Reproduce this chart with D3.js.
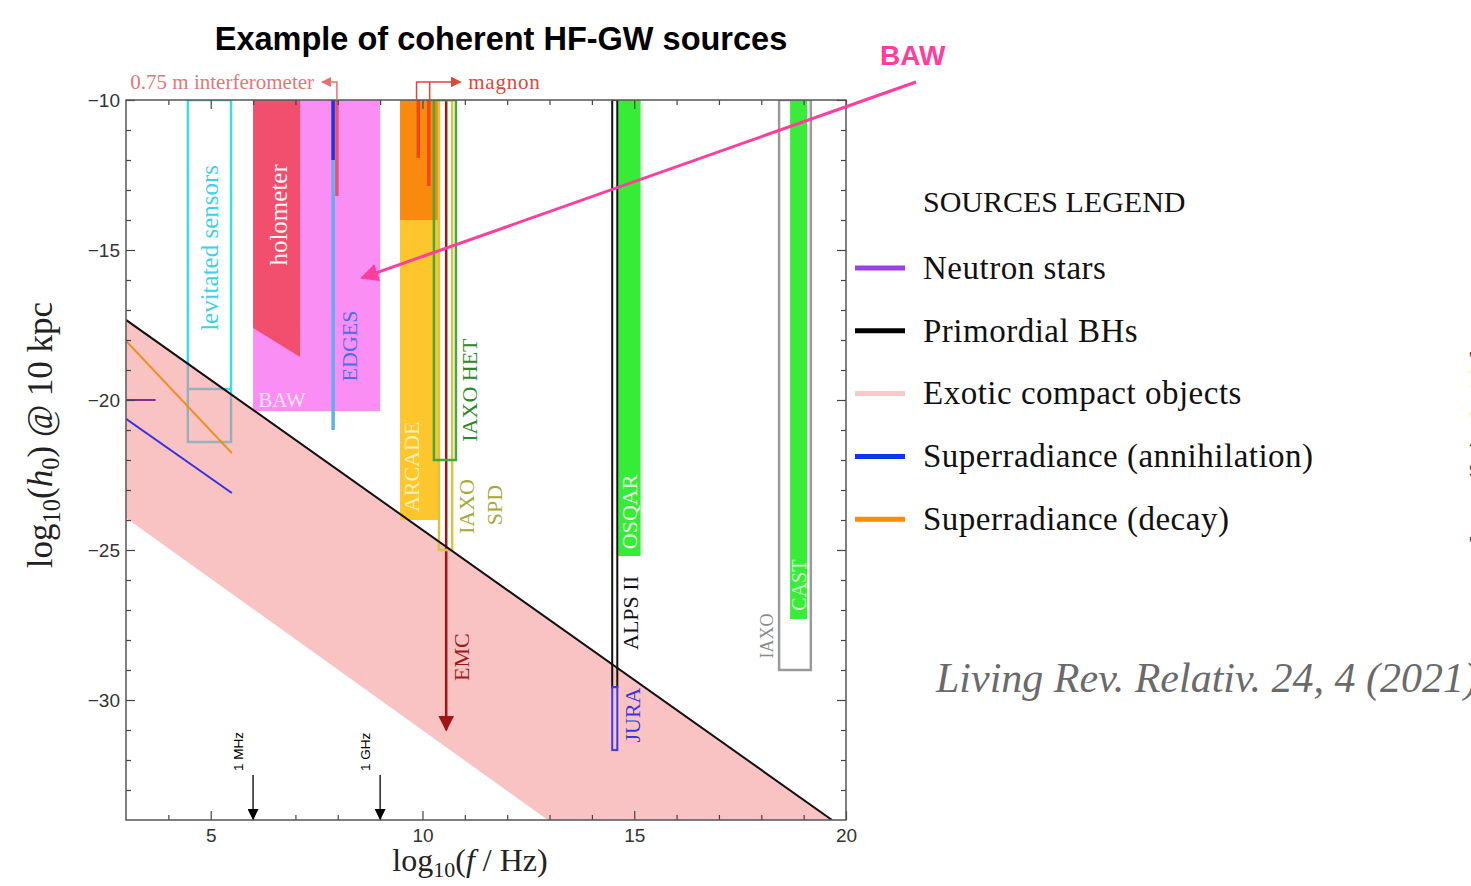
<!DOCTYPE html>
<html>
<head>
<meta charset="utf-8">
<script src="https://cdn.jsdelivr.net/npm/d3@7"></script>
<style>
  body { margin: 0; background: #fff; }
  svg { display: block; }
  .serif { font-family: "Liberation Serif", "DejaVu Serif", serif; }
  .sans { font-family: "Liberation Sans", Arial, sans-serif; }
</style>
</head>
<body>
<svg id="chart" width="1471" height="886"></svg>
<script>
// ---- data (log10 f [Hz], log10 h0) ----
const xDomain = [3, 20];
const yDomain = [-34, -10];
const xTicks = [5, 10, 15, 20];
const yTicks = [-10, -15, -20, -25, -30];

// sources
const ecoUpper = [[3, -17.33], [19.67, -34]];   // primordial BH line / top of ECO band
const ecoLower = [[3, -23.93], [12.96, -34]];
const neutronStars = [[3, -20], [3.7, -20]];
const srDecay = [[3, -18.03], [5.5, -21.77]];
const srAnnihilation = [[3, -20.63], [5.5, -23.1]];

// detectors: [name, fmin, fmax, htop, hbottom]
const filledBoxes = [
  ["BAW", 6.0, 9.0, -10, -20.37],
  ["ARCADE", 9.47, 10.41, -14, -24],
  ["ARCADE_top", 9.47, 10.41, -10, -14],
  ["OSQAR", 14.62, 15.15, -10, -25.2],
  ["CAST", 18.68, 19.08, -10, -27.3]
];
const holometer = [[6.0, -10], [7.11, -10], [7.11, -18.57], [6.0, -17.6]];
const outlineBoxes = [
  ["levitated", 4.46, 5.48, -10, -21.4],
  ["IAXO SPD", 10.39, 10.7, -10, -25],
  ["IAXO HET", 10.27, 10.79, -10, -22],
  ["ALPS II", 14.48, 14.6, -10, -29.57],
  ["JURA", 14.48, 14.6, -29.57, -31.67],
  ["IAXO", 18.42, 19.17, -10, -29]
];
const levitatedSplit = -19.63;
// vertical lines: [name, f, htop, hbottom]
const vLines = [
  ["EDGES", 7.89, -10, -21],
  ["EDGES_top", 7.89, -10, -12],
  ["interferometer", 7.98, -10, -13.2],
  ["magnon1", 9.9, -10, -11.93],
  ["magnon2", 10.15, -10, -12.87],
  ["EMC", 10.56, -10, -31]
];
const freqMarks = [6, 9];
const freqNames = ["1 MHz", "1 GHz"];

const legendNames = ["Neutron stars", "Primordial BHs", "Exotic compact objects",
  "Superradiance (annihilation)", "Superradiance (decay)"];

// ---- styles ----
const fillCol = {
  "BAW": "#fb8ef5", "ARCADE": "#fcc62c", "ARCADE_top": "#f98a0e",
  "OSQAR": "#36ec36", "CAST": "#3aec3a"
};
const strokeCol = {
  "levitated": "#3fd9e8", "IAXO SPD": "#d6c444", "IAXO HET": "#46a83a",
  "ALPS II": "#111", "JURA": "#3c3ce6", "IAXO": "#9a9a9a",
  "EDGES": "#5fb0f2", "EDGES_top": "#2233d6", "interferometer": "#e8506e",
  "magnon1": "#f04812", "magnon2": "#f04812", "EMC": "#a01414"
};
const legendCol = ["#9a40e8", "#000", "#f9c8c8", "#0a38e8", "#ff8c00"];

const svg = d3.select("#chart");
const width = 1471, height = 886;

const x = d3.scaleLinear().domain(xDomain).range([126, 846]);
const y = d3.scaleLinear().domain(yDomain).range([820, 100]);

const defs = svg.append("defs");
defs.append("clipPath").attr("id", "plotclip")
  .append("rect")
  .attr("x", x(xDomain[0])).attr("y", y(yDomain[1]))
  .attr("width", x(xDomain[1]) - x(xDomain[0]))
  .attr("height", y(yDomain[0]) - y(yDomain[1]));

// arrow heads
[["arrEMC", "#a01414", 16], ["arrBAW", "#ff3d9c", 18], ["arrBlk", "#000", 11],
 ["arrInt", "#e87070", 10], ["arrMag", "#d84a3a", 11]].forEach(([id, c, s]) => {
  defs.append("marker")
    .attr("id", id)
    .attr("viewBox", "0 0 10 10")
    .attr("refX", 9).attr("refY", 5)
    .attr("markerWidth", s).attr("markerHeight", s)
    .attr("markerUnits", "userSpaceOnUse")
    .attr("orient", "auto")
    .append("path").attr("d", "M0,0L10,5L0,10z").attr("fill", c);
});

const plot = svg.append("g").attr("clip-path", "url(#plotclip)");
const line = d3.line().x(d => x(d[0])).y(d => y(d[1]));

function box(sel, b) {
  return sel.append("rect")
    .attr("x", x(b[1])).attr("width", x(b[2]) - x(b[1]))
    .attr("y", y(b[3])).attr("height", y(b[4]) - y(b[3]));
}

// levitated sensors box (under the ECO band)
const lev = outlineBoxes[0];
box(plot, lev).attr("fill", "none").attr("stroke", strokeCol.levitated).attr("stroke-width", 2.5);
plot.append("line")
  .attr("x1", x(lev[1])).attr("x2", x(lev[2]))
  .attr("y1", y(levitatedSplit)).attr("y2", y(levitatedSplit))
  .attr("stroke", strokeCol.levitated).attr("stroke-width", 2.5);

// exotic compact objects band
plot.append("path")
  .attr("d", line(ecoUpper.concat(ecoLower.slice().reverse())) + "Z")
  .attr("fill", "#f48888").attr("fill-opacity", 0.5);

// filled detectors
filledBoxes.forEach(b => {
  box(plot, b).attr("fill", fillCol[b[0]]);
});
plot.append("path")
  .attr("d", line(holometer) + "Z")
  .attr("fill", "#f24e6e");

// vertical detector lines
vLines.forEach(v => {
  const l = plot.append("line")
    .attr("x1", x(v[1])).attr("x2", x(v[1]))
    .attr("y1", y(v[2])).attr("y2", y(v[3]))
    .attr("stroke", strokeCol[v[0]])
    .attr("stroke-width", v[0] == "EMC" ? 2.5 : 3.5);
  if (v[0] == "EMC") l.attr("marker-end", "url(#arrEMC)");
});

// outline detectors
outlineBoxes.slice(1).forEach(b => {
  box(plot, b).attr("fill", "none").attr("stroke", strokeCol[b[0]])
    .attr("stroke-width", b[0] == "ALPS II" || b[0] == "JURA" ? 2 : 2.5);
});

// source lines
plot.append("path").attr("d", line(srDecay)).attr("stroke", "#f08c1a").attr("stroke-width", 2).attr("fill", "none");
plot.append("path").attr("d", line(srAnnihilation)).attr("stroke", "#3a2ee0").attr("stroke-width", 2).attr("fill", "none");
plot.append("path").attr("d", line(neutronStars)).attr("stroke", "#8a2a8a").attr("stroke-width", 2).attr("fill", "none");
plot.append("path").attr("d", line(ecoUpper)).attr("stroke", "#111").attr("stroke-width", 2).attr("fill", "none");

// labels inside plot: [text, f, h, colour, size]
const vLabels = [
  ["levitated sensors", 4.98, -14.93, "#3fd0e6", 25],
  ["holometer", 6.61, -13.83, "#fff4f4", 25],
  ["EDGES", 8.27, -18.2, "#4a6ee8", 22],
  ["ARCADE", 9.75, -22.23, "#fff1b8", 22],
  ["IAXO HET", 11.12, -19.67, "#2a8a2a", 22],
  ["IAXO", 11.05, -23.55, "#a8a838", 22],
  ["SPD", 11.71, -23.5, "#a8a838", 22],
  ["EMC", 10.91, -28.57, "#a01818", 22],
  ["OSQAR", 14.88, -23.73, "#eaffea", 22],
  ["ALPS II", 14.92, -27.1, "#111", 22],
  ["JURA", 14.95, -30.5, "#3838e0", 22],
  ["CAST", 18.89, -26.17, "#c8ffc8", 20],
  ["IAXO", 18.14, -27.87, "#8a8a8a", 18]
];
plot.selectAll(".vlabel")
  .data(vLabels)
  .join("text")
  .attr("class", "vlabel serif")
  .attr("transform", d => `translate(${x(d[1])},${y(d[2])}) rotate(-90)`)
  .attr("text-anchor", "middle")
  .attr("dominant-baseline", "central")
  .attr("font-size", d => d[4])
  .attr("fill", d => d[3])
  .text(d => d[0]);
plot.append("text")
  .attr("class", "serif")
  .attr("x", x(6.12)).attr("y", y(-20))
  .attr("dominant-baseline", "central")
  .attr("font-size", 21).attr("fill", "#fde4fb")
  .text("BAW");

// ---- axes ----
function noDomain(g) { g.select(".domain").remove(); }
const minorX = d3.range(4, 20), minorY = d3.range(-33, -10);

svg.append("g").attr("transform", `translate(0,${y(yDomain[0])})`)
  .call(d3.axisBottom(x).tickValues(xTicks).tickSize(-9).tickPadding(9).tickFormat(d3.format("d")))
  .call(noDomain);
svg.append("g").attr("transform", `translate(0,${y(yDomain[0])})`)
  .call(d3.axisBottom(x).tickValues(minorX.filter(d => d % 5)).tickSize(-5).tickFormat(""))
  .call(noDomain);
svg.append("g").attr("transform", `translate(0,${y(yDomain[1])})`)
  .call(d3.axisTop(x).tickValues(xTicks).tickSize(-9).tickFormat(""))
  .call(noDomain);
svg.append("g").attr("transform", `translate(0,${y(yDomain[1])})`)
  .call(d3.axisTop(x).tickValues(minorX.filter(d => d % 5)).tickSize(-5).tickFormat(""))
  .call(noDomain);
svg.append("g").attr("transform", `translate(${x(xDomain[0])},0)`)
  .call(d3.axisLeft(y).tickValues(yTicks).tickSize(-9).tickPadding(6).tickFormat(d3.format("d")))
  .call(noDomain);
svg.append("g").attr("transform", `translate(${x(xDomain[0])},0)`)
  .call(d3.axisLeft(y).tickValues(minorY.filter(d => d % 5)).tickSize(-5).tickFormat(""))
  .call(noDomain);
svg.append("g").attr("transform", `translate(${x(xDomain[1])},0)`)
  .call(d3.axisRight(y).tickValues(yTicks).tickSize(-9).tickFormat(""))
  .call(noDomain);
svg.append("g").attr("transform", `translate(${x(xDomain[1])},0)`)
  .call(d3.axisRight(y).tickValues(minorY.filter(d => d % 5)).tickSize(-5).tickFormat(""))
  .call(noDomain);
svg.selectAll(".tick line").attr("stroke", "#444").attr("stroke-width", 1.2);
svg.selectAll(".tick text")
  .attr("font-family", "Liberation Sans, Arial, sans-serif")
  .attr("font-size", 19).attr("fill", "#333");

// frame
svg.append("rect")
  .attr("x", x(xDomain[0])).attr("y", y(yDomain[1]))
  .attr("width", x(xDomain[1]) - x(xDomain[0]))
  .attr("height", y(yDomain[0]) - y(yDomain[1]))
  .attr("fill", "none").attr("stroke", "#555").attr("stroke-width", 1.5);

// frequency markers
freqMarks.forEach((f, i) => {
  svg.append("line")
    .attr("x1", x(f)).attr("x2", x(f))
    .attr("y1", y(-32.5)).attr("y2", y(yDomain[0]) - 1)
    .attr("stroke", "#000").attr("stroke-width", 1.3)
    .attr("marker-end", "url(#arrBlk)");
  svg.append("text")
    .attr("class", "sans")
    .attr("transform", `translate(${x(f) - 10},${y(-32.5) - 4}) rotate(-90)`)
    .attr("font-size", 13.5).attr("fill", "#000")
    .text(freqNames[i]);
});

// axis titles
const xl = svg.append("text").attr("class", "serif")
  .attr("x", 470).attr("y", 871).attr("text-anchor", "middle")
  .attr("font-size", 32).attr("fill", "#222");
xl.append("tspan").text("log");
xl.append("tspan").attr("dy", 6).attr("font-size", 22).text("10");
xl.append("tspan").attr("dy", -6).text("(");
xl.append("tspan").attr("font-style", "italic").text("f");
xl.append("tspan").text(" / Hz)");

function yTitle(px, py, size, col) {
  const t = svg.append("text").attr("class", "serif")
    .attr("transform", `translate(${px},${py}) rotate(-90)`)
    .attr("text-anchor", "middle")
    .attr("font-size", size).attr("fill", col);
  t.append("tspan").text("log");
  t.append("tspan").attr("dy", 8).attr("font-size", size * 0.7).text("10");
  t.append("tspan").attr("dy", -8).text("(");
  t.append("tspan").attr("font-style", "italic").text("h");
  t.append("tspan").attr("dy", 7).attr("font-size", size * 0.7).text("0");
  t.append("tspan").attr("dy", -7).text(") @ 10 kpc");
}
yTitle(52, 435, 35, "#222");
yTitle(1490, 428, 30, "#222");

// annotations above the plot
svg.append("path")
  .attr("d", `M${x(7.98)},${y(-10)}V${y(-9.4)}H${x(7.63)}`)
  .attr("fill", "none").attr("stroke", "#e87070").attr("stroke-width", 1.5)
  .attr("marker-end", "url(#arrInt)");
svg.append("text").attr("class", "serif")
  .attr("x", x(7.44)).attr("y", y(-9.63)).attr("text-anchor", "end")
  .attr("font-size", 21).attr("fill", "#e07878")
  .text("0.75 m interferometer");
svg.append("path")
  .attr("d", `M${x(10.17)},${y(-10)}V${y(-9.4)}M${x(9.86)},${y(-10)}V${y(-9.4)}H${x(10.9)}`)
  .attr("fill", "none").attr("stroke", "#d84a3a").attr("stroke-width", 1.5)
  .attr("marker-end", "url(#arrMag)");
svg.append("text").attr("class", "serif")
  .attr("x", x(11.08)).attr("y", y(-9.63))
  .attr("font-size", 21).attr("letter-spacing", 0.8).attr("fill", "#d84a3a")
  .text("magnon");

// title
svg.append("text").attr("class", "sans")
  .attr("x", 501).attr("y", 50).attr("text-anchor", "middle")
  .attr("font-size", 32.5).attr("font-weight", "bold").attr("fill", "#000")
  .text("Example of coherent HF-GW sources");

// BAW callout
svg.append("text").attr("class", "sans")
  .attr("x", 880).attr("y", 65)
  .attr("font-size", 28).attr("font-weight", "bold").attr("fill", "#ff3d9c")
  .text("BAW");
svg.append("line")
  .attr("x1", 916).attr("y1", 82)
  .attr("x2", x(8.57)).attr("y2", y(-15.93))
  .attr("stroke", "#ff3d9c").attr("stroke-width", 3)
  .attr("marker-end", "url(#arrBAW)");

// legend
svg.append("text").attr("class", "serif")
  .attr("x", 923).attr("y", 212)
  .attr("font-size", 30).attr("fill", "#111")
  .text("SOURCES LEGEND");
const leg = svg.selectAll(".leg")
  .data(legendNames)
  .join("g")
  .attr("class", "leg")
  .attr("transform", (d, i) => `translate(0,${268 + i * 62.8})`);
leg.append("line")
  .attr("x1", 855).attr("x2", 905)
  .attr("stroke", (d, i) => legendCol[i]).attr("stroke-width", 5);
leg.append("text").attr("class", "serif")
  .attr("x", 923).attr("dy", "0.33em")
  .attr("font-size", 33).attr("letter-spacing", 0.5).attr("fill", "#111")
  .text(d => d);

// citation
svg.append("text").attr("class", "serif")
  .attr("x", 936).attr("y", 692)
  .attr("font-size", 42).attr("font-style", "italic").attr("fill", "#6a6a6a")
  .text("Living Rev. Relativ. 24, 4 (2021)");
</script>
</body>
</html>
